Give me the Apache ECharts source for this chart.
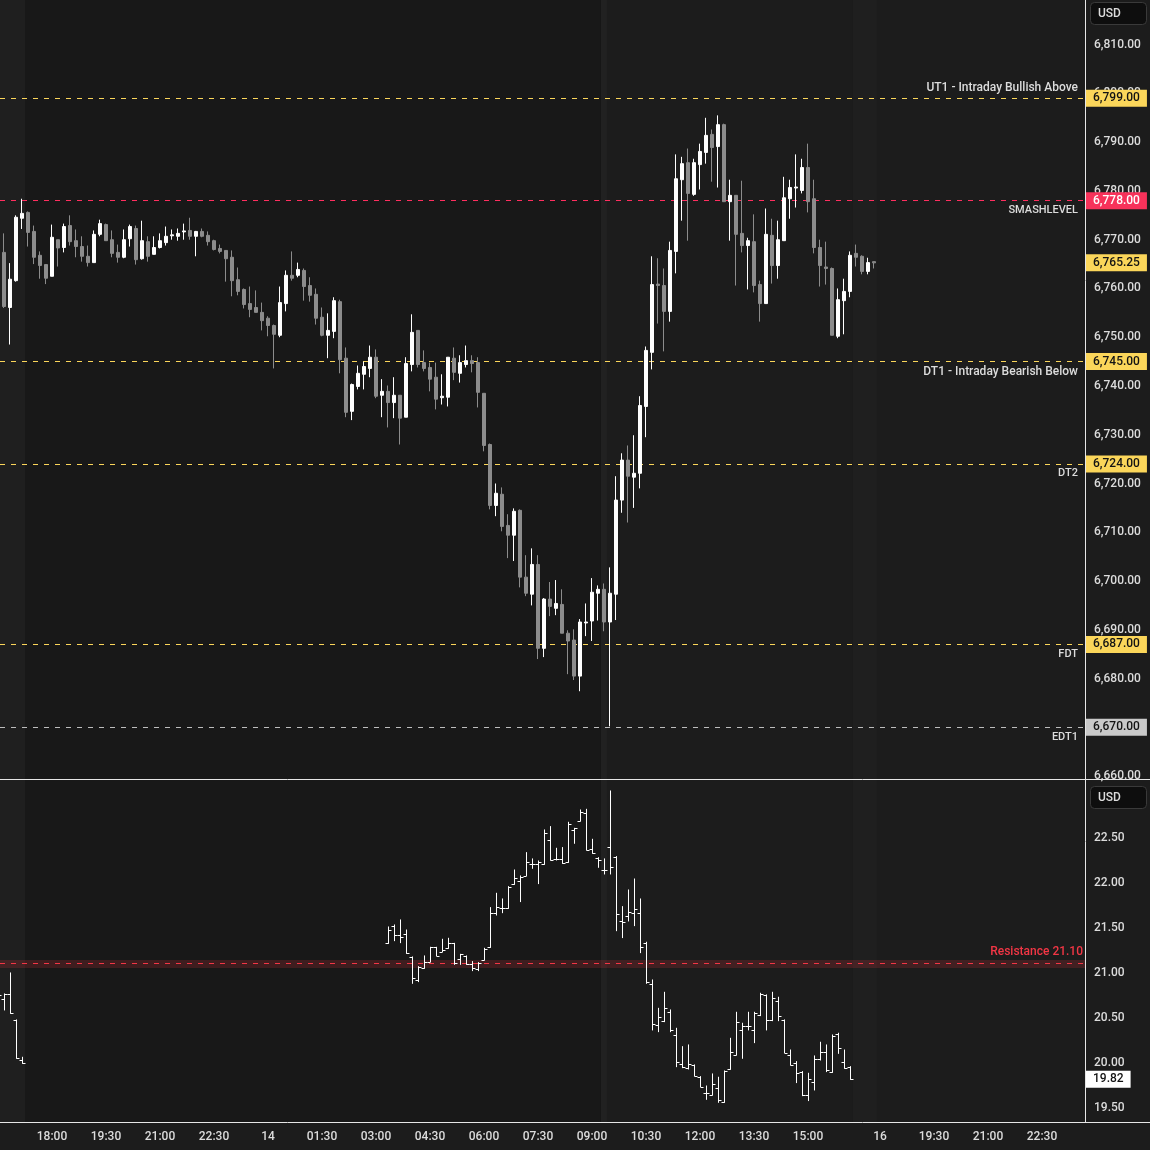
<!DOCTYPE html>
<html><head><meta charset="utf-8">
<script src="https://cdn.jsdelivr.net/npm/echarts@6/dist/echarts.min.js"></script>
<style>html,body{margin:0;padding:0;background:#1c1c1c}#c{width:1150px;height:1150px}</style>
</head><body><div id="c"></div>
<script>
// ---------- DATA ----------
// Time axis: bar index (10-minute bars), tick labels
const tickIdx  = [8,17,26,35,44,53,62,71,80,89,98,107,116,125,134,146,155,164,173];
const tickText = ['18:00','19:30','21:00','22:30','14','01:30','03:00','04:30','06:00','07:30','09:00','10:30','12:00','13:30','15:00','16','19:30','21:00','22:30'];

// Upper pane: index futures candles [open, high, low, close], first bar at index esStart
const esStart = -1;
const esBars = [
[6757.0,6768.0,6755.0,6767.4],[6767.4,6771.3,6756.0,6756.3],[6756.1,6765.2,6748.5,6761.9],[6761.6,6775.0,6761.4,6774.6],
[6774.4,6778.4,6772.2,6775.4],[6775.6,6775.8,6768.6,6771.5],[6771.7,6772.9,6765.0,6766.4],[6766.8,6767.6,6762.0,6764.7],
[6764.9,6764.9,6760.9,6762.1],[6762.5,6773.1,6762.5,6770.5],[6770.0,6770.0,6764.5,6768.3],[6768.4,6773.3,6767.4,6772.7],
[6772.9,6775.0,6768.8,6769.6],[6769.8,6772.1,6766.4,6768.6],[6768.6,6770.7,6765.5,6766.6],[6766.6,6768.8,6764.5,6765.3],
[6765.3,6771.9,6765.3,6771.1],[6771.1,6774.1,6770.7,6773.3],[6773.1,6773.3,6769.8,6769.8],[6770.0,6771.9,6766.4,6767.2],
[6767.4,6769.0,6765.3,6766.4],[6766.4,6772.1,6766.2,6770.0],[6770.2,6773.1,6768.6,6772.7],[6772.3,6772.9,6764.9,6765.9],
[6766.1,6773.9,6765.9,6769.8],[6769.6,6770.7,6765.5,6766.6],[6767.0,6770.7,6767.0,6768.4],[6768.4,6771.3,6768.2,6769.8],
[6769.4,6772.7,6768.8,6770.7],[6770.8,6772.1,6770.0,6771.0],[6770.7,6772.3,6769.8,6771.3],[6771.6,6773.3,6770.0,6771.8],
[6771.9,6774.5,6770.0,6770.7],[6770.7,6771.8,6766.6,6771.7],[6771.7,6772.3,6770.5,6770.7],[6770.9,6771.7,6768.8,6769.6],
[6769.8,6770.0,6767.8,6768.0],[6768.2,6769.0,6767.2,6767.6],[6767.8,6767.8,6761.4,6766.1],[6766.4,6767.8,6758.4,6761.6],
[6761.8,6764.3,6758.6,6759.4],[6759.8,6760.0,6755.9,6756.7],[6756.9,6760.4,6754.1,6755.7],[6756.1,6759.6,6755.1,6755.1],
[6755.1,6757.1,6751.4,6753.4],[6753.9,6754.3,6750.2,6752.4],[6752.4,6752.6,6743.6,6750.6],[6750.4,6760.4,6750.0,6757.1],
[6756.9,6763.7,6755.3,6762.7],[6762.7,6767.6,6761.6,6762.1],[6762.7,6765.3,6762.3,6763.9],[6763.7,6764.1,6757.5,6760.4],
[6760.6,6762.3,6757.3,6758.6],[6758.8,6760.0,6752.6,6753.9],[6754.1,6756.1,6750.2,6750.4],[6750.4,6754.9,6745.7,6751.4],
[6751.2,6758.2,6749.8,6757.5],[6757.3,6757.7,6742.6,6745.4],[6745.7,6747.9,6733.6,6734.6],[6734.8,6740.5,6733.0,6740.3],
[6739.9,6744.2,6739.3,6742.6],[6742.4,6745.0,6739.3,6744.0],[6743.6,6748.3,6741.8,6745.9],[6745.9,6747.5,6737.5,6737.9],
[6738.1,6741.4,6733.6,6738.9],[6738.9,6740.1,6731.5,6736.6],[6736.6,6741.8,6733.4,6738.1],[6738.1,6738.1,6728.0,6733.4],
[6733.6,6745.9,6733.6,6744.6],[6744.4,6754.7,6743.0,6751.0],[6751.4,6751.4,6743.8,6744.4],[6744.8,6747.3,6743.0,6743.6],
[6743.8,6744.8,6738.9,6741.4],[6741.8,6744.8,6735.2,6737.3],[6737.6,6742.4,6736.2,6737.9],[6737.7,6745.9,6735.8,6745.9],
[6745.7,6747.9,6741.2,6742.8],[6742.6,6746.3,6740.7,6744.8],[6744.4,6748.3,6743.8,6745.2],[6745.2,6746.3,6742.8,6744.6],
[6744.8,6745.9,6735.6,6738.7],[6738.5,6738.5,6726.6,6727.8],[6728.0,6728.2,6714.7,6715.5],[6715.5,6720.0,6713.3,6718.0],
[6717.8,6719.2,6710.2,6711.2],[6711.4,6713.7,6704.7,6709.4],[6709.4,6714.9,6704.1,6714.3],[6714.5,6714.7,6698.7,6700.8],
[6700.8,6705.3,6696.9,6697.5],[6697.3,6706.7,6695.0,6703.4],[6703.4,6705.3,6684.0,6686.2],[6686.2,6696.5,6684.4,6696.3],
[6696.3,6699.8,6692.8,6694.8],[6694.4,6700.2,6693.0,6695.4],[6695.2,6698.3,6689.3,6689.3],[6689.3,6689.9,6680.9,6687.7],
[6687.9,6690.1,6679.7,6680.5],[6680.5,6692.2,6677.4,6691.6],[6691.4,6695.4,6688.7,6691.6],[6691.8,6700.6,6687.7,6697.7],
[6697.5,6699.1,6691.9,6698.3],[6698.3,6699.5,6689.7,6691.6],[6691.6,6702.8,6670.2,6697.5],[6697.3,6721.5,6692.0,6716.6],
[6716.6,6726.2,6714.0,6724.8],[6724.8,6727.8,6712.0,6721.5],[6721.3,6729.9,6715.0,6722.1],[6722.1,6737.9,6719.0,6736.0],
[6735.8,6748.1,6729.5,6747.3],[6746.9,6766.6,6743.4,6760.8],[6760.9,6766.2,6752.8,6760.6],[6760.6,6764.1,6747.1,6755.3],
[6755.3,6769.6,6753.2,6767.8],[6767.6,6787.5,6763.1,6782.5],[6782.3,6787.0,6773.9,6785.6],[6785.8,6788.7,6769.8,6779.5],
[6779.3,6786.6,6779.0,6785.8],[6785.4,6789.7,6780.3,6788.1],[6787.9,6795.0,6785.6,6791.4],[6791.6,6792.6,6781.9,6788.9],
[6789.1,6795.5,6780.7,6793.6],[6793.6,6793.8,6777.8,6777.8],[6777.8,6782.3,6769.8,6779.1],[6779.1,6779.1,6760.6,6771.1],
[6771.3,6782.1,6767.4,6768.8],[6768.8,6770.4,6759.8,6769.8],[6769.6,6775.2,6759.2,6760.6],[6760.8,6761.6,6753.2,6756.9],
[6756.9,6776.4,6756.9,6771.1],[6770.9,6774.3,6761.0,6764.7],[6764.7,6773.9,6762.0,6770.0],[6769.8,6782.9,6769.8,6778.6],
[6778.4,6782.3,6774.3,6780.7],[6780.6,6787.5,6776.6,6780.8],[6780.1,6786.6,6779.5,6784.8],[6784.8,6789.7,6775.6,6777.8],
[6778.4,6782.3,6767.2,6768.4],[6768.4,6770.0,6760.4,6764.7],[6764.4,6769.6,6760.8,6764.1],[6764.1,6764.3,6750.4,6750.4],
[6750.2,6760.0,6749.8,6757.7],[6757.5,6762.0,6750.6,6759.4],[6759.4,6767.6,6758.2,6766.8],[6767.2,6769.0,6764.5,6766.4],
[6766.6,6766.8,6762.9,6763.5],[6763.5,6766.3,6762.9,6765.3],[6765.5,6765.5,6764.1,6765.25]
];
const esLast = 6765.25;

// Upper pane levels
const levelVals  = [6799, 6778, 6745, 6724, 6687, 6670];
const levelNames = ['UT1 - Intraday Bullish Above','SMASHLEVEL','DT1 - Intraday Bearish Below','DT2','FDT','EDT1'];

// Lower pane: volatility index bars [open, high, low, close]
const vixStartA = -1;
const vixA = [
[20.75,20.78,20.72,20.756],[20.707,20.767,20.589,20.767],[20.767,21.0,20.552,20.552],[20.478,20.478,20.052,20.052],[20.033,20.063,19.996,19.996]
];
const vixStartB = 64;
const vixB = [
[21.329,21.511,21.329,21.477],[21.522,21.533,21.359,21.418],[21.418,21.589,21.337,21.403],[21.433,21.477,21.218,21.218],
[21.178,21.178,20.885,20.940],[20.922,21.070,20.904,21.070],[21.052,21.189,21.052,21.126],[21.126,21.285,21.126,21.285],
[21.285,21.285,21.192,21.192],[21.237,21.374,21.237,21.255],[21.274,21.385,21.274,21.329],[21.329,21.329,21.096,21.115],
[21.152,21.207,21.096,21.207],[21.189,21.189,21.096,21.096],[21.096,21.126,21.026,21.052],[21.041,21.115,21.026,21.115],
[21.144,21.274,21.144,21.267],[21.285,21.726,21.285,21.670],[21.670,21.885,21.644,21.737],[21.718,21.822,21.670,21.718],
[21.718,21.959,21.718,21.959],[21.985,22.144,21.985,22.059],[22.026,22.078,21.793,22.070],[22.081,22.337,22.081,22.230],
[22.207,22.267,22.163,22.207],[22.207,22.244,21.993,22.237],[22.207,22.589,22.207,22.552],[22.478,22.626,22.255,22.255],
[22.267,22.385,22.255,22.267],[22.267,22.393,22.218,22.218],[22.229,22.674,22.229,22.652],[22.589,22.607,22.441,22.607],
[22.689,22.811,22.689,22.785],[22.774,22.818,22.367,22.367],[22.378,22.485,22.330,22.330],[22.274,22.281,22.174,22.255],
[22.144,22.267,22.100,22.144],[22.404,23.022,22.100,22.182],[22.293,22.293,21.470,21.656],[21.578,21.737,21.393,21.563],
[21.633,21.922,21.578,21.682],[21.663,22.044,21.526,21.707],[21.670,21.822,21.226,21.285],[21.330,21.341,20.885,20.896],
[20.878,20.922,20.367,20.430],[20.422,20.607,20.348,20.515],[20.467,20.785,20.459,20.607],[20.570,20.589,20.348,20.367],
[20.311,20.385,19.959,20.015],[19.989,20.181,19.948,19.959],[19.941,20.200,19.933,19.989],[19.978,19.978,19.856,19.856],
[19.848,19.848,19.737,19.737],[19.663,19.744,19.596,19.663],[19.644,19.878,19.644,19.767],[19.719,19.841,19.563,19.589],
[19.563,19.911,19.563,19.911],[19.930,20.274,19.930,20.119],[20.089,20.563,20.089,20.459],[20.367,20.441,20.052,20.415],
[20.415,20.563,20.367,20.415],[20.367,20.563,20.226,20.552],[20.533,20.774,20.526,20.767],[20.756,20.756,20.367,20.478],
[20.478,20.785,20.470,20.719],[20.693,20.730,20.470,20.522],[20.478,20.478,20.115,20.115],[20.089,20.144,19.978,19.978],
[20.000,20.015,19.782,19.893],[19.896,19.904,19.637,19.645],[19.645,19.885,19.582,19.819],[19.793,20.078,19.700,20.041],
[20.041,20.230,20.033,20.126],[20.126,20.200,19.904,19.922],[19.896,20.311,19.896,20.300],[20.322,20.330,20.107,20.163],
[20.015,20.144,19.941,19.941],[19.952,19.959,19.819,19.819]
];
const vixLast = 19.82;
const resistance = 21.10;

const esTicks  = [6660,6670,6680,6690,6700,6710,6720,6730,6740,6750,6760,6770,6780,6790,6800,6810];
const vixTicks = [19.5,20.0,20.5,21.0,21.5,22.0,22.5];

// ---------- CHART ----------
const FONT = 'Roboto, "Noto Sans", sans-serif';
const XMIN = -0.667, XMAX = 180.167;
const fmt = v => v.toLocaleString('en-US',{minimumFractionDigits:2, maximumFractionDigits:2});
const YEL = '#fbd65a', RED = '#ff2e5f', GRY = '#c9c9c9';
const levelLine = [YEL, RED, YEL, YEL, YEL, '#bdbdbd'];
const levelBox  = [YEL, '#f7325a', YEL, YEL, YEL, GRY];
const levelTxt  = ['#131313','#ffffff','#131313','#131313','#131313','#131313'];

const candleData = esBars.map((b,k)=>[esStart+k, b[0], b[3], b[2], b[1]]);
const vixData = vixA.map((b,k)=>[vixStartA+k].concat(b)).concat(vixB.map((b,k)=>[vixStartB+k].concat(b)));

const boxLabel = (bg, fg, text) => ({show:true, position:'end', formatter:text, backgroundColor:bg, color:fg,
  padding:[2,7,2,7], fontSize:12, fontWeight:500, lineHeight:13, fontFamily:FONT, distance:1});

// labels of level lines (line itself is drawn crisp by a custom series below)
const esLabels = levelVals.map((v,k)=>({
  yAxis:v, lineStyle:{color:'rgba(0,0,0,0)', width:1},
  label:{show:true, position: k===0 ? 'insideEndTop' : 'insideEndBottom', formatter:levelNames[k],
    color:'#dcdcdc', fontSize: /[a-z]/.test(levelNames[k]) ? 12 : 11, fontWeight:500, fontFamily:FONT, distance:[7,4]}
}));
const esBoxes = levelVals.map((v,k)=>({yAxis:v, lineStyle:{color:'rgba(0,0,0,0)', width:1}, label:boxLabel(levelBox[k], levelTxt[k], fmt(v))}));
esBoxes.push({yAxis:esLast, lineStyle:{color:'rgba(0,0,0,0)', width:1}, label:boxLabel(YEL,'#131313',fmt(esLast))});

const bands = [
  [{xAxis:XMIN, itemStyle:{color:'#1f1f1f'}},{xAxis:3.5}],
  [{xAxis:3.5, itemStyle:{color:'#181818'}},{xAxis:99.5}],
  [{xAxis:99.5, itemStyle:{color:'#212121'}},{xAxis:100.5}],
  [{xAxis:141.5, itemStyle:{color:'#1f1f1f'}},{xAxis:145.5}]
];

function renderOHLC(params, api){
  const x = api.value(0);
  const pO = api.coord([x, api.value(1)]);
  const pH = api.coord([x, api.value(2)]);
  const pL = api.coord([x, api.value(3)]);
  const pC = api.coord([x, api.value(4)]);
  const xc = Math.round(pH[0]) + 0.5;
  const yo = Math.round(pO[1]) + 0.5, yc = Math.round(pC[1]) + 0.5;
  const st = {stroke:'#ffffff', lineWidth:1};
  return {type:'group', children:[
    {type:'line', shape:{x1:xc, y1:pH[1]-0.5, x2:xc, y2:pL[1]+0.5}, style:st},
    {type:'line', shape:{x1:xc-3, y1:yo, x2:xc, y2:yo}, style:st},
    {type:'line', shape:{x1:xc, y1:yc, x2:xc+3, y2:yc}, style:st}
  ]};
}

// crisp dashed horizontal level line through the axis scale
function levelRenderer(colors){
  return function(params, api){
    const p = api.coord([XMIN, api.value(1)]);
    const y = Math.round(p[1] - 0.5) + 0.5;
    const cs = params.coordSys;
    return {type:'line', shape:{x1:cs.x, y1:y, x2:cs.x + cs.width, y2:y},
      style:{stroke:colors[params.dataIndex], lineWidth:1, lineDash:[5,6]}};
  };
}

const axisLbl = {color:'#dcdcdc', fontSize:12, fontWeight:500, fontFamily:FONT};
const noLine = {show:false};

const option = {
  backgroundColor:'#1c1c1c',
  animation:false,
  grid:[
    {left:0, right:65, top:0, height:779},
    {left:0, right:65, top:780, height:342}
  ],
  xAxis:[
    {type:'value', gridIndex:0, min:XMIN, max:XMAX, show:false, splitLine:{show:false}},
    {type:'value', gridIndex:1, min:XMIN, max:XMAX, splitLine:{show:false},
      axisLine:noLine, axisTick:{show:false},
      axisLabel:Object.assign({customValues:tickIdx, margin:9,
        formatter:v=>{const j=tickIdx.indexOf(Math.round(v)); return j>=0?tickText[j]:'';}}, axisLbl)}
  ],
  yAxis:[
    {type:'value', gridIndex:0, position:'right', min:6659.40, max:6819.16, splitLine:{show:false},
      axisLine:noLine, axisTick:{show:false},
      axisLabel:Object.assign({customValues:esTicks, margin:9, formatter:v=>fmt(v)}, axisLbl)},
    {type:'value', gridIndex:1, position:'right', min:19.344, max:23.144, splitLine:{show:false},
      axisLine:noLine, axisTick:{show:false},
      axisLabel:Object.assign({customValues:vixTicks, margin:9, formatter:v=>v.toFixed(2)}, axisLbl)}
  ],
  series:[
    {type:'line', xAxisIndex:0, yAxisIndex:0, data:[], z:0, silent:true,
      markArea:{silent:true, data:bands}},
    {type:'line', xAxisIndex:1, yAxisIndex:1, data:[], z:0, silent:true,
      markArea:{silent:true, data:bands.concat([[{yAxis:resistance-0.045, itemStyle:{color:'rgba(242,54,69,0.18)'}},{yAxis:resistance+0.045}]])}},
    {type:'custom', xAxisIndex:0, yAxisIndex:0, z:2, silent:true, clip:false,
      data:levelVals.map(v=>[XMIN, v]), encode:{x:0, y:1}, renderItem:levelRenderer(levelLine)},
    {type:'custom', xAxisIndex:1, yAxisIndex:1, z:2, silent:true, clip:false,
      data:[[XMIN, resistance]], encode:{x:0, y:1}, renderItem:levelRenderer(['#f23645'])},
    {type:'candlestick', xAxisIndex:0, yAxisIndex:0, data:candleData, barWidth:4, z:3,
      itemStyle:{color:'#ffffff', color0:'#8c8c8c', borderColor:'#ffffff', borderColor0:'#8c8c8c', borderColorDoji:'#ffffff', borderWidth:1}},
    {type:'line', xAxisIndex:0, yAxisIndex:0, data:[], z:4, silent:true,
      markLine:{silent:true, symbol:['none','none'], data:esLabels, animation:false}},
    {type:'line', xAxisIndex:0, yAxisIndex:0, data:[], z:5, silent:true,
      markLine:{silent:true, symbol:['none','none'], data:esBoxes, animation:false}},
    {type:'custom', xAxisIndex:1, yAxisIndex:1, data:vixData, renderItem:renderOHLC, z:3,
      dimensions:['i','o','h','l','c'], encode:{x:0, y:[1,2,3,4]}},
    {type:'line', xAxisIndex:1, yAxisIndex:1, data:[], z:4, silent:true,
      markLine:{silent:true, symbol:['none','none'], animation:false, data:[
        {yAxis:resistance, lineStyle:{color:'rgba(0,0,0,0)', width:1},
          label:{show:true, position:'insideEndTop', formatter:'Resistance ' + resistance.toFixed(2), color:'#f23645', fontSize:12, fontWeight:500, fontFamily:FONT, distance:[2,6]}},
        {yAxis:vixLast, lineStyle:{color:'rgba(0,0,0,0)', width:1}, label:boxLabel('#ffffff','#131313',vixLast.toFixed(2))}
      ]}}
  ],
  graphic:[
    {type:'line', shape:{x1:0, y1:779.5, x2:1150, y2:779.5}, style:{stroke:'#e6e6e6', lineWidth:1}, z:100},
    {type:'line', shape:{x1:0, y1:1122.5, x2:1150, y2:1122.5}, style:{stroke:'#e6e6e6', lineWidth:1}, z:100},
    {type:'line', shape:{x1:1085.5, y1:0, x2:1085.5, y2:1122}, style:{stroke:'#e6e6e6', lineWidth:1}, z:100},
    {type:'rect', shape:{x:1090.5, y:2.5, width:56, height:22, r:4}, style:{fill:'#0e0e0e', stroke:'#3a3a3a', lineWidth:1}, z:100},
    {type:'text', x:1098, y:13.5, style:{text:'USD', fill:'#dcdcdc', font:'500 12px ' + FONT, textVerticalAlign:'middle'}, z:101},
    {type:'rect', shape:{x:1090.5, y:786.5, width:56, height:22, r:4}, style:{fill:'#0e0e0e', stroke:'#3a3a3a', lineWidth:1}, z:100},
    {type:'text', x:1098, y:797.5, style:{text:'USD', fill:'#dcdcdc', font:'500 12px ' + FONT, textVerticalAlign:'middle'}, z:101}
  ]
};

const chart = echarts.init(document.getElementById('c'), null, {renderer:'canvas'});
chart.setOption(option);
</script>
</body></html>
